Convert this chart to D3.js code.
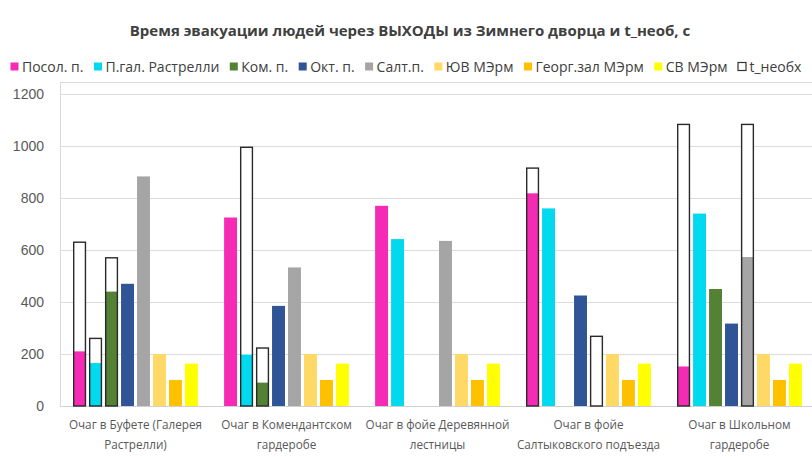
<!DOCTYPE html>
<html><head><meta charset="utf-8">
<script src="https://cdn.jsdelivr.net/npm/d3@7"></script>
<style>html,body{margin:0;padding:0;background:#fff}</style>
</head><body>
<svg id="chart" width="812" height="457"></svg>
<script>
const categories = ["Очаг в Буфете (Галерея Растрелли)", "Очаг в Комендантском гардеробе", "Очаг в фойе Деревянной лестницы", "Очаг в фойе Салтыковского подъезда", "Очаг в Школьном гардеробе"];
const categoryLines = [["Очаг в Буфете (Галерея", "Растрелли)"], ["Очаг в Комендантском", "гардеробе"], ["Очаг в фойе Деревянной", "лестницы"], ["Очаг в фойе", "Салтыковского подъезда"], ["Очаг в Школьном", "гардеробе"]];
const seriesNames = ["Посол. п.", "П.гал. Растрелли", "Ком. п.", "Окт. п.", "Салт.п.", "ЮВ МЭрм", "Георг.зал МЭрм", "СВ МЭрм"];
const posol = [210, 725, 770, 818, 152];
const pgal  = [165, 198, 642, 760, 740];
const kom   = [440, 90, 0, 0, 450];
const okt   = [470, 385, 0, 425, 317];
const salt  = [883, 533, 635, 0, 573];
const yuv   = [200, 200, 200, 200, 200];
const georg = [100, 100, 100, 100, 100];
const sv    = [163, 163, 163, 163, 163];
// t_необх: [category index, series index, value]
const tNeob = [[0,0,630],[0,1,260],[0,2,570],[1,1,995],[1,2,223],[3,0,915],[3,4,268],[4,0,1083],[4,4,1083]];
const tName = "t_необх";
const yTicks = [0, 200, 400, 600, 800, 1000, 1200];
const title = "Время эвакуации людей через ВЫХОДЫ  из Зимнего дворца и t_необ, с";

const seriesValues = [posol, pgal, kom, okt, salt, yuv, georg, sv];
const colors = ["#F52BB6", "#00D9EE", "#548235", "#2F5597", "#A5A5A5", "#FFD966", "#FFC000", "#FFFF00"];

const svg = d3.select("#chart");
const font = "'Open Sans',Arial,sans-serif";
const pLeft = 60, pRight = 815, pTop = 82, pBottom = 406;

const x0 = d3.scaleBand().domain(d3.range(categories.length)).range([pLeft, pRight]).padding(0);
const x1 = d3.scaleBand().domain(d3.range(seriesNames.length)).range([0, x0.bandwidth()]).paddingInner(0.19).paddingOuter(0.82);
const y = d3.scaleLinear().domain([0, 1200]).range([pBottom, 94]);

function squeeze(sel, f) {
  sel.each(function () {
    const w = this.getComputedTextLength();
    d3.select(this).attr("textLength", w * f).attr("lengthAdjust", "spacingAndGlyphs");
  });
}

// plot frame
svg.append("rect").attr("x", pLeft + 0.5).attr("y", pTop + 0.5).attr("width", pRight - pLeft).attr("height", pBottom - pTop)
  .attr("fill", "none").attr("stroke", "#d9d9d9").attr("stroke-width", 1);

// gridlines
svg.append("g").selectAll("line").data(yTicks.filter(d => d > 0)).join("line")
  .attr("x1", pLeft).attr("x2", pRight).attr("y1", d => Math.round(y(d)) + 0.5).attr("y2", d => Math.round(y(d)) + 0.5)
  .attr("stroke", "#dcdcdc").attr("stroke-width", 1);

// y axis
const yAxis = d3.axisLeft(y).tickValues(yTicks).tickSize(0).tickPadding(16).tickFormat(d3.format("d"));
const ga = svg.append("g").attr("transform", `translate(${pLeft},0)`).call(yAxis);
ga.select(".domain").remove();
ga.selectAll("text").attr("font-family", "'Liberation Sans',Arial,sans-serif").attr("font-size", 14).attr("fill", "#595959");

// x baseline
svg.append("line").attr("x1", pLeft).attr("x2", pRight).attr("y1", pBottom + 0.5).attr("y2", pBottom + 0.5).attr("stroke", "#d0d0d0");

// t_необх white bars
svg.append("g").selectAll("rect").data(tNeob).join("rect")
  .attr("x", d => x0(d[0]) + x1(d[1])).attr("width", x1.bandwidth())
  .attr("y", d => y(d[2])).attr("height", d => y(0) - y(d[2]))
  .attr("fill", "#fff");

// series bars
const flat = [];
seriesValues.forEach((arr, s) => arr.forEach((v, c) => { if (v > 0) flat.push({c, s, v}); }));
svg.append("g").selectAll("rect").data(flat).join("rect")
  .attr("x", d => x0(d.c) + x1(d.s)).attr("width", x1.bandwidth())
  .attr("y", d => y(d.v)).attr("height", d => y(0) - y(d.v))
  .attr("fill", d => colors[d.s]);

// t_необх outlines
svg.append("g").selectAll("rect").data(tNeob).join("rect")
  .attr("x", d => x0(d[0]) + x1(d[1]) + 0.6).attr("width", x1.bandwidth() - 1.2)
  .attr("y", d => y(d[2])).attr("height", d => y(0) - y(d[2]))
  .attr("fill", "none").attr("stroke", "#2a2a2a").attr("stroke-width", 1.4);

// x labels
const xl = svg.append("g");
categoryLines.forEach((lines, c) => {
  lines.forEach((ln, i) => {
    xl.append("text").attr("x", x0(c) + x0.bandwidth() / 2).attr("y", 429 + i * 20)
      .attr("text-anchor", "middle").attr("font-family", font).attr("font-size", 13)
      .attr("fill", "#595959").text(ln);
  });
});
squeeze(xl.selectAll("text"), 0.9);

// title
svg.append("text").attr("x", 410).attr("y", 36).attr("text-anchor", "middle")
  .attr("font-family", font).attr("font-size", 15).attr("font-weight", "bold").attr("fill", "#404040").text(title);

// legend
const legendItems = seriesNames.map((n, i) => ({name: n, color: colors[i], outline: false}));
legendItems.push({name: tName, color: "#fff", outline: true});
const lg = svg.append("g");
let lx = 10;
legendItems.forEach(it => {
  lg.append("rect").attr("x", lx + 0.5).attr("y", 62.5).attr("width", 8).attr("height", 8)
    .attr("fill", it.color).attr("stroke", it.outline ? "#333" : "none").attr("stroke-width", 1.2);
  const t = lg.append("text").attr("x", lx + 12).attr("y", 71.5).attr("font-family", font).attr("font-size", 14)
    .attr("fill", "#404040").text(it.name);
  lx += 12 + t.node().getComputedTextLength() + 10;
});
</script>
</body></html>
